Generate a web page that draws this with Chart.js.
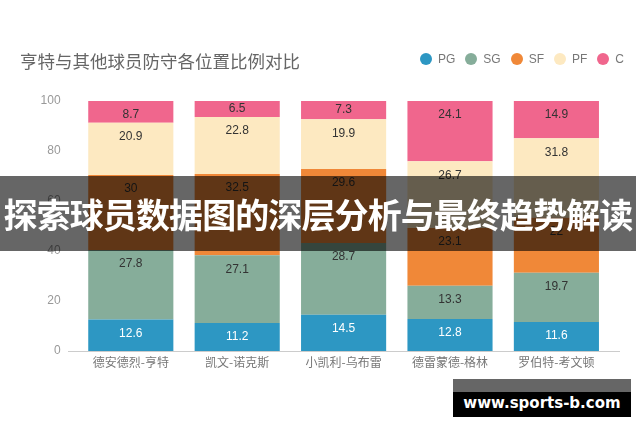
<!DOCTYPE html>
<html>
<head>
<meta charset="utf-8">
<script src="https://cdn.jsdelivr.net/npm/chart.js@4.4.0/dist/chart.umd.min.js"></script>
<style>
  body { margin: 0; background: #fff; }
  #wrap { position: relative; width: 640px; height: 426px; overflow: hidden; font-family: "Liberation Sans", "Noto Sans CJK SC", sans-serif; }
  #title { position: absolute; left: 20px; top: 49px; font-size: 17.5px; color: #666; font-family: "Noto Sans CJK SC", sans-serif; line-height: 24px; }
  #legend { position: absolute; right: 16px; top: 52px; display: flex; align-items: center; font-size: 12px; color: #777; }
  #legend .item { display: flex; align-items: center; margin-left: 10px; }
  #legend .dot { width: 12px; height: 12px; border-radius: 50%; margin-right: 6px; }
  #banner { position: absolute; left: 0; top: 176px; width: 636px; height: 75px; background: rgba(0,0,0,0.6); }
  #bannerText { position: absolute; left: -32px; top: 176px; width: 700px; height: 75px;
    color: #fff; font-family: "Noto Sans CJK SC", sans-serif; font-weight: bold; font-size: 34px; letter-spacing: -0.9px;
    line-height: 75px; text-align: center; white-space: nowrap; }
  #mark { position: absolute; left: 453px; top: 379px; width: 178px; }
  #mark .g { height: 13px; background: #666; }
  #mark .b { height: 25px; background: #000; color: #fff; font-family: "DejaVu Sans", sans-serif; font-weight: bold; font-size: 15px; line-height: 23px; text-align: center; }
</style>
</head>
<body>
<div id="wrap">
  <canvas id="grafico" width="640" height="426"></canvas>
  <div id="title">亨特与其他球员防守各位置比例对比</div>
  <div id="legend"></div>
  <div id="banner"></div>
  <div id="bannerText">探索球员数据图的深层分析与最终趋势解读</div>
  <div id="mark"><div class="g"></div><div class="b">www.sports-b.com</div></div>
</div>
<script>
// dados
var jogadores = ['德安德烈-亨特', '凯文-诺克斯', '小凯利-乌布雷', '德雷蒙德-格林', '罗伯特-考文顿'];
var posicoes = ['PG', 'SG', 'SF', 'PF', 'C'];
var pg = [12.6, 11.2, 14.5, 12.8, 11.6];
var sg = [27.8, 27.1, 28.7, 13.3, 19.7];
var sf = [30, 32.5, 29.6, 23.1, 22.0];
var pf = [20.9, 22.8, 19.9, 26.7, 31.8];
var c = [8.7, 6.5, 7.3, 24.1, 14.9];
var yTicks = [0, 20, 40, 60, 80, 100];

var cores = ['#2d97c3', '#86ad9a', '#f08838', '#fde9c1', '#f0668d'];
var corTexto = ['#ffffff', '#333333', '#333333', '#333333', '#333333'];

var series = [pg, sg, sf, pf, c];

// legenda
var leg = document.getElementById('legend');
posicoes.forEach(function (p, i) {
    var it = document.createElement('div');
    it.className = 'item';
    it.innerHTML = '<span class="dot" style="background:' + cores[i] + '"></span>' + p;
    leg.appendChild(it);
});

// rótulos dentro das barras
var rotulos = {
    id: 'rotulos',
    afterDatasetsDraw: function (chart) {
        var ctx = chart.ctx;
        ctx.save();
        ctx.font = '12px "Liberation Sans", Arial, sans-serif';
        ctx.textAlign = 'center';
        ctx.textBaseline = 'middle';
        chart.data.datasets.forEach(function (ds, i) {
            var meta = chart.getDatasetMeta(i);
            meta.data.forEach(function (bar, j) {
                var top = Math.min(bar.y, bar.base);
                var h = Math.abs(bar.base - bar.y);
                var y = h < 20 ? top + h / 2 : top + 14;
                ctx.fillStyle = corTexto[i];
                ctx.fillText(String(ds.data[j]), bar.x, y);
            });
        });
        ctx.restore();
    }
};

// linha do eixo x
var linhaEixo = {
    id: 'linhaEixo',
    beforeDatasetsDraw: function (chart) {
        var a = chart.chartArea, ctx = chart.ctx;
        ctx.save();
        ctx.strokeStyle = '#cccccc';
        ctx.lineWidth = 1;
        ctx.beginPath();
        ctx.moveTo(a.left - 9.6, Math.round(a.bottom) + 0.5);
        ctx.lineTo(a.right + 10.4, Math.round(a.bottom) + 0.5);
        ctx.stroke();
        ctx.restore();
    }
};

var ctx = document.getElementById('grafico').getContext('2d');

var meuGrafico = new Chart(ctx, {
    type: 'bar',
    data: {
        labels: jogadores,
        datasets: series.map(function (d, i) {
            return {
                label: posicoes[i],
                data: d,
                backgroundColor: cores[i],
                borderWidth: 0,
                barPercentage: 0.8,
                categoryPercentage: 1
            };
        })
    },
    options: {
        responsive: false,
        animation: false,
        layout: { padding: { left: 0, right: 30.4, top: 101, bottom: 0 } },
        plugins: {
            legend: { display: false },
            title: { display: false },
            tooltip: { enabled: false }
        },
        scales: {
            x: {
                stacked: true,
                grid: { display: false, drawTicks: false },
                border: { display: false },
                ticks: {
                    padding: 4,
                    color: '#777',
                    font: { size: 12, family: '"Noto Sans CJK SC", sans-serif' },
                    maxRotation: 0
                },
                afterFit: function (s) { s.height = 75; }
            },
            y: {
                stacked: true,
                min: 0,
                max: 100,
                grid: { display: false, drawTicks: false },
                border: { display: false },
                afterBuildTicks: function (s) {
                    s.ticks = yTicks.map(function (v) { return { value: v }; });
                },
                ticks: {
                    padding: 17,
                    color: '#999',
                    font: { size: 12, family: '"Liberation Sans", Arial, sans-serif' }
                },
                afterFit: function (s) { s.width = 77.6; }
            }
        }
    },
    plugins: [linhaEixo, rotulos]
});
</script>
</body>
</html>
